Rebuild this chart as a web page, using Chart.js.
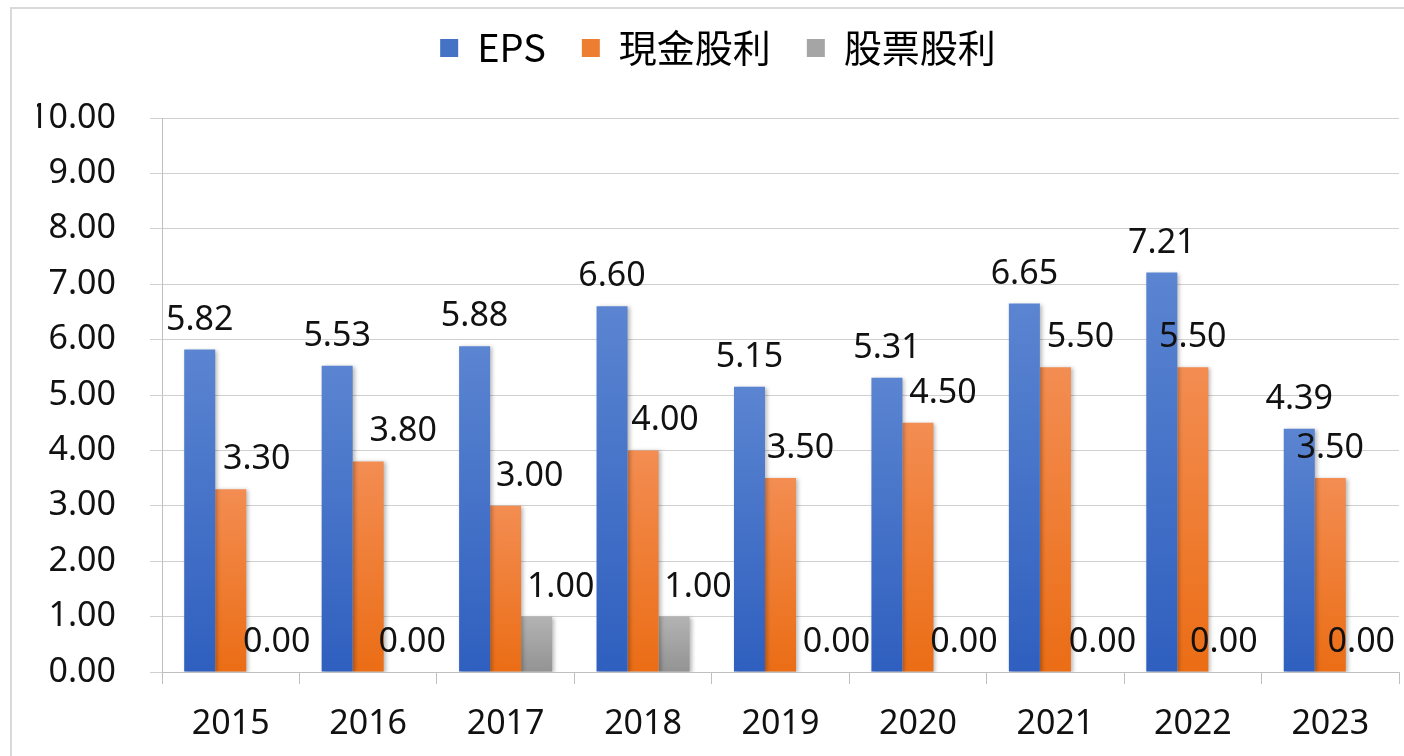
<!DOCTYPE html>
<html>
<head>
<meta charset="utf-8">
<script src="https://cdn.jsdelivr.net/npm/chart.js@4/dist/chart.umd.min.js"></script>
<style>
  html, body { margin: 0; padding: 0; background: #fff; overflow: hidden; }
  .frame { position: absolute; left: 10px; top: 7px; width: 1500px; height: 900px; border: 2px solid #d9d9d9; }
  .wrap { position: absolute; left: 0; top: 0; width: 1404px; height: 756px; }
</style>
</head>
<body>
<div class="frame"></div>
<div class="wrap"><canvas id="divChart" width="1404" height="756"></canvas></div>
<script>
// data
const years = ['2015', '2016', '2017', '2018', '2019', '2020', '2021', '2022', '2023'];
const seriesNames = ['EPS', '現金股利', '股票股利'];
const eps = [5.82, 5.53, 5.88, 6.60, 5.15, 5.31, 6.65, 7.21, 4.39];
const cashDiv = [3.30, 3.80, 3.00, 4.00, 3.50, 4.50, 5.50, 5.50, 3.50];
const stockDiv = [0, 0, 1.00, 1.00, 0, 0, 0, 0, 0];
const yTicks = [0, 1, 2, 3, 4, 5, 6, 7, 8, 9, 10];

// label nudges to the right (px), as placed in the original
const labelShift = [
  [0, 0, 0, 0, 0, 0, 0, 0, 0],
  [26, 35, 24, 22, 20, 25, 25, 0, 0],
  [15, 13, 24, 24, 25, 15, 16, 0, 0]
];

const solid = ['#4472c4', '#ed7d31', '#a5a5a5'];

function barFill(top, bottom) {
  return (c) => {
    const chart = c.chart;
    if (!chart.chartArea || c.type !== 'data') return bottom;
    const y = chart.scales.y;
    const y0 = y.getPixelForValue(0);
    const y1 = y.getPixelForValue(c.raw);
    if (y1 >= y0) return bottom;
    const g = chart.ctx.createLinearGradient(0, y1, 0, y0);
    g.addColorStop(0, top);
    g.addColorStop(1, bottom);
    return g;
  };
}

// leave more room under the legend
const legendSpace = {
  id: 'legendSpace',
  afterInit(chart) {
    const lg = chart.legend;
    if (!lg) return;
    const fit = lg.fit;
    lg.fit = function () {
      fit.call(this);
      this.height += 41;
    };
  }
};

// bar shadow like excel
const shadowPlugin = {
  id: 'shadow',
  beforeDatasetsDraw(chart) {
    const ctx = chart.ctx;
    ctx.save();
    ctx.shadowColor = 'rgba(0,0,0,0.28)';
    ctx.shadowBlur = 4;
    ctx.shadowOffsetX = 2;
    ctx.shadowOffsetY = 1;
  },
  afterDatasetsDraw(chart) {
    chart.ctx.restore();
  }
};

// value labels above bars
const valueLabels = {
  id: 'valueLabels',
  afterDatasetsDraw(chart) {
    const ctx = chart.ctx;
    ctx.save();
    ctx.font = '34px "Noto Sans", sans-serif';
    ctx.fillStyle = '#111';
    ctx.textAlign = 'center';
    ctx.textBaseline = 'alphabetic';
    chart.data.datasets.forEach((ds, i) => {
      const meta = chart.getDatasetMeta(i);
      meta.data.forEach((bar, j) => {
        ctx.fillText(ds.data[j].toFixed(2), bar.x + labelShift[i][j], bar.y - 20);
      });
    });
    ctx.restore();
  }
};

const data = {
  labels: years,
  datasets: [
    { label: seriesNames[0], data: eps, backgroundColor: barFill('#5b85d1', '#2f5fbf') },
    { label: seriesNames[1], data: cashDiv, backgroundColor: barFill('#f38d52', '#eb6d15') },
    { label: seriesNames[2], data: stockDiv, backgroundColor: barFill('#b3b3b3', '#939393') }
  ]
};

const options = {
  responsive: false,
  animation: false,
  devicePixelRatio: 1,
  layout: { padding: { left: 37, right: 5, top: -7, bottom: 7 } },
  datasets: {
    bar: { categoryPercentage: 0.677, barPercentage: 1, borderWidth: 0 }
  },
  plugins: {
    tooltip: { enabled: false },
    legend: {
      position: 'top',
      labels: {
        font: { family: '"Noto Sans CJK TC", "Noto Sans", sans-serif', size: 38 },
        color: '#111',
        boxWidth: 18,
        boxHeight: 18,
        padding: 36,
        generateLabels: (chart) => chart.data.datasets.map((ds, i) => ({
          text: ds.label,
          fillStyle: solid[i],
          strokeStyle: solid[i],
          lineWidth: 0,
          hidden: false,
          datasetIndex: i
        }))
      }
    }
  },
  scales: {
    x: {
      afterFit: (s) => { s.height = 77; },
      grid: { offset: true, drawOnChartArea: false, drawTicks: true, tickLength: 12, color: '#bfbfbf' },
      border: { display: true, color: '#bfbfbf' },
      ticks: { font: { family: '"Noto Sans", sans-serif', size: 34 }, color: '#111', padding: 20 }
    },
    y: {
      min: 0,
      max: 10,
      afterFit: (s) => { s.width = 125; },
      afterBuildTicks: (s) => { s.ticks = yTicks.map(v => ({ value: v })); },
      grid: { color: '#d0d0d0', tickLength: 12, lineWidth: 1 },
      border: { display: true, color: '#bfbfbf' },
      ticks: {
        font: { family: '"Noto Sans", sans-serif', size: 34 },
        color: '#111',
        padding: 34,
        callback: (v) => Number(v).toFixed(2)
      }
    }
  }
};

const config = {
  type: 'bar',
  data: data,
  options,
  plugins: [legendSpace, shadowPlugin, valueLabels]
};

const divChart = new Chart(document.getElementById('divChart'), config);
</script>
</body>
</html>
